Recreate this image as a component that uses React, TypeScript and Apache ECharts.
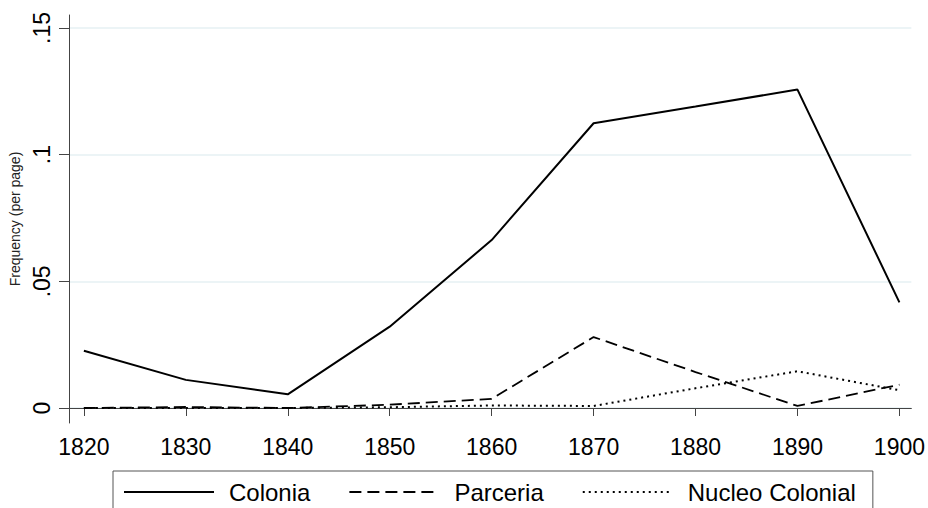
import React, { useEffect, useRef } from "react";
import * as echarts from "echarts";

const years = [1820, 1830, 1840, 1850, 1860, 1870, 1880, 1890, 1900];
const colonia = [0.0226, 0.0111, 0.0054, 0.0321, 0.0663, 0.1124, 0.119, 0.1257, 0.0417];
const parceria = [0.0, 0.0004, 0.0, 0.0013, 0.0036, 0.028, 0.0142, 0.0008, 0.0092];
const nucleo = [0.0, 0.0, 0.0, 0.0003, 0.001, 0.0008, 0.0078, 0.0145, 0.007];
const xTicks = [1820, 1830, 1840, 1850, 1860, 1870, 1880, 1890, 1900];
const yTicks = [0, 0.05, 0.1, 0.15];
const yTickLabels = ["0", ".05", ".1", ".15"];
const seriesNames = ["Colonia", "Parceria", "Nucleo Colonial"];

const FONT = "Liberation Sans, Arial, sans-serif";

export default function App() {
  const ref = useRef<HTMLDivElement>(null);
  useEffect(() => {
    if (!ref.current) return;
    const chart = echarts.init(ref.current, null, { renderer: "svg" });
    const pairs = (vals: number[]) => years.map((y, i) => [y, vals[i]]);
    const lineSeries = (name: string, vals: number[], type: any, width: number) => ({
      name,
      type: "line",
      data: pairs(vals),
      symbol: "none",
      showSymbol: false,
      lineStyle: { color: "#000", width, type },
      itemStyle: { color: "#000" },
    });
    chart.setOption({
      animation: false,
      backgroundColor: "#fff",
      grid: { left: 69, right: 12, top: 15, bottom: 85, containLabel: false },
      xAxis: {
        type: "value",
        min: 1818.54,
        max: 1901.17,
        axisLine: { show: true, lineStyle: { color: "#444", width: 1 } },
        axisTick: { show: true, length: 8, lineStyle: { color: "#444" }, customValues: xTicks },
        axisLabel: {
          customValues: xTicks,
          color: "#000",
          fontFamily: FONT,
          fontSize: 23,
          margin: 12,
          formatter: (v: number) => String(v),
        },
        splitLine: { show: false },
      },
      yAxis: {
        type: "value",
        min: -0.00592,
        max: 0.15513,
        name: "Frequency (per page)",
        nameLocation: "middle",
        nameRotate: 90,
        nameGap: 39,
        nameTextStyle: { color: "#222", fontFamily: FONT, fontSize: 14 },
        axisLine: { show: true, lineStyle: { color: "#444", width: 1 } },
        axisTick: { show: true, length: 10, lineStyle: { color: "#444" }, customValues: yTicks },
        axisLabel: {
          customValues: yTicks,
          rotate: 90,
          color: "#000",
          fontFamily: FONT,
          fontSize: 23,
          margin: 16,
          formatter: (v: number) => {
            const i = yTicks.findIndex((t) => Math.abs(t - v) < 1e-9);
            return i >= 0 ? yTickLabels[i] : "";
          },
        },
        splitLine: { show: true, lineStyle: { color: "#e6f0f3", width: 1.5 } },
      },
      legend: {
        left: 113,
        top: 471,
        padding: [9, 17, 40, 10],
        borderColor: "#555",
        borderWidth: 1,
        itemWidth: 90,
        itemHeight: 14,
        itemGap: 38,
        data: seriesNames,
        itemStyle: { color: "transparent", borderColor: "transparent", borderWidth: 0, opacity: 0 },
        textStyle: {
          color: "#000",
          fontFamily: FONT,
          fontSize: 24,
          padding: [0, 0, 0, 10],
        },
      },
      series: [
        lineSeries(seriesNames[0], colonia, "solid", 2),
        lineSeries(seriesNames[1], parceria, [12, 6], 1.8),
        lineSeries(seriesNames[2], nucleo, [2, 4], 2),
      ],
    });
    return () => chart.dispose();
  }, []);
  return <div ref={ref} style={{ width: 928, height: 508, position: "absolute", left: 0, top: 0 }} />;
}
